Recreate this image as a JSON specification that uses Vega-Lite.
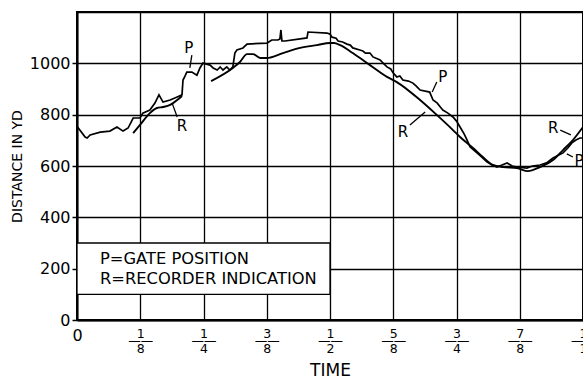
{
  "$schema": "https://vega.github.io/schema/vega-lite/v6.json",
  "width": 506,
  "height": 308,
  "autosize": {"type": "none"},
  "padding": {"left": 77, "top": 12, "right": 0, "bottom": 57},
  "background": "white",
  "config": {
    "view": {"stroke": "black", "strokeWidth": 2},
    "font": "DejaVu Sans",
    "axis": {"gridColor": "black", "gridWidth": 1.3, "gridOpacity": 1, "domainColor": "black", "domainWidth": 2, "labelColor": "black", "titleColor": "black", "labelFont": "DejaVu Sans", "titleFont": "DejaVu Sans", "titleFontWeight": "normal"}
  },
  "datasets": {
    "curves": [
      {"series": "P", "seg": "p", "t": 0, "v": 755},
      {"series": "P", "seg": "p", "t": 0.016, "v": 713},
      {"series": "P", "seg": "p", "t": 0.020, "v": 709},
      {"series": "P", "seg": "p", "t": 0.026, "v": 721},
      {"series": "P", "seg": "p", "t": 0.046, "v": 732},
      {"series": "P", "seg": "p", "t": 0.065, "v": 736},
      {"series": "P", "seg": "p", "t": 0.079, "v": 752},
      {"series": "P", "seg": "p", "t": 0.091, "v": 736},
      {"series": "P", "seg": "p", "t": 0.101, "v": 748},
      {"series": "P", "seg": "p", "t": 0.111, "v": 787},
      {"series": "P", "seg": "p", "t": 0.1245, "v": 787},
      {"series": "P", "seg": "p", "t": 0.130, "v": 806},
      {"series": "P", "seg": "p", "t": 0.144, "v": 818},
      {"series": "P", "seg": "p", "t": 0.154, "v": 845},
      {"series": "P", "seg": "p", "t": 0.162, "v": 877},
      {"series": "P", "seg": "p", "t": 0.170, "v": 849},
      {"series": "P", "seg": "p", "t": 0.184, "v": 857},
      {"series": "P", "seg": "p", "t": 0.198, "v": 869},
      {"series": "P", "seg": "p", "t": 0.2075, "v": 877},
      {"series": "P", "seg": "p", "t": 0.2095, "v": 935},
      {"series": "P", "seg": "p", "t": 0.2134, "v": 950},
      {"series": "P", "seg": "p", "t": 0.217, "v": 966},
      {"series": "P", "seg": "p", "t": 0.227, "v": 966},
      {"series": "P", "seg": "p", "t": 0.237, "v": 954},
      {"series": "P", "seg": "p", "t": 0.243, "v": 982},
      {"series": "P", "seg": "p", "t": 0.249, "v": 1001},
      {"series": "P", "seg": "p", "t": 0.263, "v": 993},
      {"series": "P", "seg": "p", "t": 0.269, "v": 982},
      {"series": "P", "seg": "p", "t": 0.277, "v": 974},
      {"series": "P", "seg": "p", "t": 0.283, "v": 986},
      {"series": "P", "seg": "p", "t": 0.2885, "v": 974},
      {"series": "P", "seg": "p", "t": 0.296, "v": 986},
      {"series": "P", "seg": "p", "t": 0.302, "v": 974},
      {"series": "P", "seg": "p", "t": 0.308, "v": 986},
      {"series": "P", "seg": "p", "t": 0.312, "v": 1040},
      {"series": "P", "seg": "p", "t": 0.316, "v": 1052},
      {"series": "P", "seg": "p", "t": 0.328, "v": 1060},
      {"series": "P", "seg": "p", "t": 0.336, "v": 1075},
      {"series": "P", "seg": "p", "t": 0.3755, "v": 1079},
      {"series": "P", "seg": "p", "t": 0.385, "v": 1091},
      {"series": "P", "seg": "p", "t": 0.397, "v": 1091},
      {"series": "P", "seg": "p", "t": 0.401, "v": 1095},
      {"series": "P", "seg": "p", "t": 0.403, "v": 1130},
      {"series": "P", "seg": "p", "t": 0.405, "v": 1087},
      {"series": "P", "seg": "p", "t": 0.411, "v": 1087},
      {"series": "P", "seg": "p", "t": 0.441, "v": 1095},
      {"series": "P", "seg": "p", "t": 0.4545, "v": 1099},
      {"series": "P", "seg": "p", "t": 0.4565, "v": 1122},
      {"series": "P", "seg": "p", "t": 0.494, "v": 1118},
      {"series": "P", "seg": "p", "t": 0.500, "v": 1114},
      {"series": "P", "seg": "p", "t": 0.504, "v": 1102},
      {"series": "P", "seg": "p", "t": 0.512, "v": 1098},
      {"series": "P", "seg": "p", "t": 0.516, "v": 1087},
      {"series": "P", "seg": "p", "t": 0.525, "v": 1083},
      {"series": "P", "seg": "p", "t": 0.5336, "v": 1075},
      {"series": "P", "seg": "p", "t": 0.540, "v": 1071},
      {"series": "P", "seg": "p", "t": 0.545, "v": 1060},
      {"series": "P", "seg": "p", "t": 0.559, "v": 1052},
      {"series": "P", "seg": "p", "t": 0.565, "v": 1048},
      {"series": "P", "seg": "p", "t": 0.570, "v": 1040},
      {"series": "P", "seg": "p", "t": 0.579, "v": 1040},
      {"series": "P", "seg": "p", "t": 0.585, "v": 1025},
      {"series": "P", "seg": "p", "t": 0.599, "v": 1013},
      {"series": "P", "seg": "p", "t": 0.605, "v": 1001},
      {"series": "P", "seg": "p", "t": 0.6126, "v": 986},
      {"series": "P", "seg": "p", "t": 0.620, "v": 978},
      {"series": "P", "seg": "p", "t": 0.625, "v": 962},
      {"series": "P", "seg": "p", "t": 0.632, "v": 947},
      {"series": "P", "seg": "p", "t": 0.638, "v": 951},
      {"series": "P", "seg": "p", "t": 0.644, "v": 935},
      {"series": "P", "seg": "p", "t": 0.655, "v": 931},
      {"series": "P", "seg": "p", "t": 0.664, "v": 923},
      {"series": "P", "seg": "p", "t": 0.670, "v": 912},
      {"series": "P", "seg": "p", "t": 0.678, "v": 896},
      {"series": "P", "seg": "p", "t": 0.697, "v": 888},
      {"series": "P", "seg": "p", "t": 0.7036, "v": 857},
      {"series": "P", "seg": "p", "t": 0.712, "v": 845},
      {"series": "P", "seg": "p", "t": 0.718, "v": 830},
      {"series": "P", "seg": "p", "t": 0.723, "v": 818},
      {"series": "P", "seg": "p", "t": 0.733, "v": 806},
      {"series": "P", "seg": "p", "t": 0.743, "v": 791},
      {"series": "P", "seg": "p", "t": 0.750, "v": 775},
      {"series": "P", "seg": "p", "t": 0.757, "v": 752},
      {"series": "P", "seg": "p", "t": 0.765, "v": 725},
      {"series": "P", "seg": "p", "t": 0.770, "v": 705},
      {"series": "P", "seg": "p", "t": 0.777, "v": 674},
      {"series": "P", "seg": "p", "t": 0.7905, "v": 651},
      {"series": "P", "seg": "p", "t": 0.800, "v": 635},
      {"series": "P", "seg": "p", "t": 0.810, "v": 616},
      {"series": "P", "seg": "p", "t": 0.820, "v": 604},
      {"series": "P", "seg": "p", "t": 0.830, "v": 596},
      {"series": "P", "seg": "p", "t": 0.840, "v": 604},
      {"series": "P", "seg": "p", "t": 0.850, "v": 612},
      {"series": "P", "seg": "p", "t": 0.860, "v": 600},
      {"series": "P", "seg": "p", "t": 0.8696, "v": 596},
      {"series": "P", "seg": "p", "t": 0.889, "v": 592},
      {"series": "P", "seg": "p", "t": 0.900, "v": 600},
      {"series": "P", "seg": "p", "t": 0.915, "v": 604},
      {"series": "P", "seg": "p", "t": 0.928, "v": 612},
      {"series": "P", "seg": "p", "t": 0.9407, "v": 631},
      {"series": "P", "seg": "p", "t": 0.9605, "v": 651},
      {"series": "P", "seg": "p", "t": 0.970, "v": 670},
      {"series": "P", "seg": "p", "t": 0.978, "v": 690},
      {"series": "P", "seg": "p", "t": 0.986, "v": 701},
      {"series": "P", "seg": "p", "t": 0.994, "v": 709},
      {"series": "P", "seg": "p", "t": 1.0, "v": 709},
      {"series": "R", "seg": "r1", "t": 0.111, "v": 728},
      {"series": "R", "seg": "r1", "t": 0.1245, "v": 760},
      {"series": "R", "seg": "r1", "t": 0.144, "v": 806},
      {"series": "R", "seg": "r1", "t": 0.158, "v": 826},
      {"series": "R", "seg": "r1", "t": 0.170, "v": 830},
      {"series": "R", "seg": "r1", "t": 0.184, "v": 838},
      {"series": "R", "seg": "r1", "t": 0.198, "v": 857},
      {"series": "R", "seg": "r1", "t": 0.2075, "v": 873},
      {"series": "R", "seg": "r2", "t": 0.265, "v": 931},
      {"series": "R", "seg": "r2", "t": 0.308, "v": 982},
      {"series": "R", "seg": "r2", "t": 0.322, "v": 1005},
      {"series": "R", "seg": "r2", "t": 0.336, "v": 1036},
      {"series": "R", "seg": "r2", "t": 0.348, "v": 1036},
      {"series": "R", "seg": "r2", "t": 0.362, "v": 1021},
      {"series": "R", "seg": "r2", "t": 0.3755, "v": 1021},
      {"series": "R", "seg": "r2", "t": 0.407, "v": 1040},
      {"series": "R", "seg": "r2", "t": 0.441, "v": 1060},
      {"series": "R", "seg": "r2", "t": 0.474, "v": 1071},
      {"series": "R", "seg": "r2", "t": 0.500, "v": 1079},
      {"series": "R", "seg": "r2", "t": 0.508, "v": 1079},
      {"series": "R", "seg": "r2", "t": 0.520, "v": 1071},
      {"series": "R", "seg": "r2", "t": 0.545, "v": 1040},
      {"series": "R", "seg": "r2", "t": 0.579, "v": 993},
      {"series": "R", "seg": "r2", "t": 0.6126, "v": 947},
      {"series": "R", "seg": "r2", "t": 0.632, "v": 927},
      {"series": "R", "seg": "r2", "t": 0.678, "v": 857},
      {"series": "R", "seg": "r2", "t": 0.711, "v": 799},
      {"series": "R", "seg": "r2", "t": 0.743, "v": 740},
      {"series": "R", "seg": "r2", "t": 0.757, "v": 713},
      {"series": "R", "seg": "r2", "t": 0.7826, "v": 670},
      {"series": "R", "seg": "r2", "t": 0.802, "v": 635},
      {"series": "R", "seg": "r2", "t": 0.822, "v": 604},
      {"series": "R", "seg": "r2", "t": 0.842, "v": 596},
      {"series": "R", "seg": "r2", "t": 0.8696, "v": 592},
      {"series": "R", "seg": "r2", "t": 0.891, "v": 580},
      {"series": "R", "seg": "r2", "t": 0.915, "v": 596},
      {"series": "R", "seg": "r2", "t": 0.9407, "v": 623},
      {"series": "R", "seg": "r2", "t": 0.9605, "v": 662},
      {"series": "R", "seg": "r2", "t": 0.980, "v": 701},
      {"series": "R", "seg": "r2", "t": 1.0, "v": 752}
    ],
    "leaders": [
      {"t": 0.227, "v": 1032, "t2": 0.223, "v2": 982},
      {"t": 0.198, "v": 791, "t2": 0.188, "v2": 845},
      {"t": 0.711, "v": 927, "t2": 0.702, "v2": 888},
      {"t": 0.658, "v": 760, "t2": 0.688, "v2": 810},
      {"t": 0.955, "v": 740, "t2": 0.976, "v2": 721},
      {"t": 0.980, "v": 635, "t2": 0.968, "v2": 647}
    ],
    "letters": [
      {"t": 0.221, "v": 1060, "label": "P"},
      {"t": 0.2075, "v": 756, "label": "R"},
      {"t": 0.723, "v": 947, "label": "P"},
      {"t": 0.644, "v": 732, "label": "R"},
      {"t": 0.941, "v": 748, "label": "R"},
      {"t": 0.992, "v": 619, "label": "P"}
    ],
    "box": [{"t": 0, "t2": 0.5, "v": 100, "v2": 300}],
    "legendText": [
      {"t": 0.0455, "v": 238, "label": "P=GATE POSITION"},
      {"t": 0.0455, "v": 160, "label": "R=RECORDER INDICATION"}
    ]
  },
  "layer": [
    {
      "data": {"name": "box"},
      "mark": {"type": "rect", "fill": "white", "stroke": "black", "strokeWidth": 1.3},
      "encoding": {
        "x": {"field": "t", "type": "quantitative", "scale": {"domain": [0, 1], "nice": false},
          "axis": {"values": [0, 0.125, 0.25, 0.375, 0.5, 0.625, 0.75, 0.875, 1], "grid": true, "ticks": false, "title": "TIME", "titleFontSize": 17, "titlePadding": 8,
            "labelExpr": "datum.value == 0 ? '0' : datum.value == 0.125 ? ['1','——','8'] : datum.value == 0.25 ? ['1','——','4'] : datum.value == 0.375 ? ['3','——','8'] : datum.value == 0.5 ? ['1','——','2'] : datum.value == 0.625 ? ['5','——','8'] : datum.value == 0.75 ? ['3','——','4'] : datum.value == 0.875 ? ['7','——','8'] : ['1','——','1']",
            "labelFontSize": {"condition": {"test": "datum.value == 0", "value": 16}, "value": 12.5},
            "labelLineHeight": 7.5, "labelBaseline": "top", "labelPadding": 7, "labelFlush": false, "labelOverlap": false}},
        "x2": {"field": "t2"},
        "y": {"field": "v", "type": "quantitative", "scale": {"domain": [0, 1200], "nice": false},
          "axis": {"values": [0, 100, 200, 300, 400, 500, 600, 700, 800, 900, 1000, 1100, 1200], "grid": true, "title": "DISTANCE IN YD", "titleFontSize": 14, "titlePadding": 5,
            "labelExpr": "(datum.value % 200 == 0 && datum.value <= 1000) ? datum.label : ''",
            "labelFontSize": 16, "labelPadding": 2, "tickSize": 5, "tickColor": "black", "tickWidth": 1.5,
            "tickOpacity": {"condition": {"test": "datum.value % 200 == 0 && datum.value <= 1000", "value": 1}, "value": 0},
            "format": "d"}},
        "y2": {"field": "v2"}
      }
    },
    {
      "data": {"name": "curves"},
      "transform": [{"filter": "datum.series == 'P'"}],
      "mark": {"type": "line", "color": "black", "strokeWidth": 1.7, "interpolate": "linear"},
      "encoding": {
        "x": {"field": "t", "type": "quantitative"},
        "y": {"field": "v", "type": "quantitative"},
        "detail": {"field": "seg"}
      }
    },
    {
      "data": {"name": "curves"},
      "transform": [{"filter": "datum.series == 'R'"}],
      "mark": {"type": "line", "color": "black", "strokeWidth": 1.9, "interpolate": "monotone"},
      "encoding": {
        "x": {"field": "t", "type": "quantitative"},
        "y": {"field": "v", "type": "quantitative"},
        "detail": {"field": "seg"}
      }
    },
    {
      "data": {"name": "leaders"},
      "mark": {"type": "rule", "color": "black", "strokeWidth": 1.3},
      "encoding": {
        "x": {"field": "t", "type": "quantitative"},
        "y": {"field": "v", "type": "quantitative"},
        "x2": {"field": "t2"},
        "y2": {"field": "v2"}
      }
    },
    {
      "data": {"name": "letters"},
      "mark": {"type": "text", "fontSize": 15, "color": "black", "align": "center", "baseline": "middle", "clip": false},
      "encoding": {
        "x": {"field": "t", "type": "quantitative"},
        "y": {"field": "v", "type": "quantitative"},
        "text": {"field": "label"}
      }
    },
    {
      "data": {"name": "legendText"},
      "mark": {"type": "text", "fontSize": 16.3, "color": "black", "align": "left", "baseline": "middle"},
      "encoding": {
        "x": {"field": "t", "type": "quantitative"},
        "y": {"field": "v", "type": "quantitative"},
        "text": {"field": "label"}
      }
    }
  ]
}
